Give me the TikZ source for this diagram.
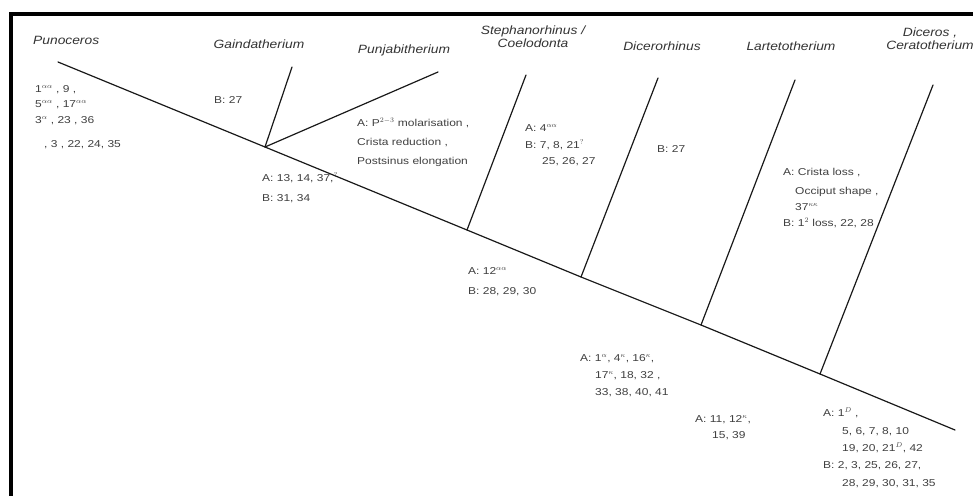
\documentclass[tikz,border=0pt]{standalone}
\usepackage{fontspec}
\setmainfont{Liberation Sans}[FakeStretch=1.15]
\newfontfamily\datafont{Liberation Sans}[FakeStretch=1.2]
\begin{document}
\begin{tikzpicture}[x=1pt,y=-1pt,
  taxon/.style={font=\fontsize{12}{13}\selectfont\itshape, text=black!80, inner sep=0pt, align=center},
  data/.style={font=\datafont\fontsize{10}{10}\selectfont, text=black!75, inner sep=0pt, anchor=base west},
  branch/.style={line width=1.2pt, draw=black!90, line cap=round},
  frameline/.style={line width=4pt, line join=miter}]
\useasboundingbox (0,0) rectangle (973,495);
\fill[white] (0,0) rectangle (973,495);
\draw[frameline] (11,500) -- (11,14) -- (980,14);

% main line and junctions
\coordinate (root) at (58,62);
\coordinate (tipend) at (955,430);
\coordinate (j1) at (265,147);
\coordinate (j2) at (467,230);
\coordinate (j3) at (581,277);
\coordinate (j4) at (701,325);
\coordinate (j5) at (820,374);
\coordinate (tG) at (292,67);
\coordinate (tP) at (438,72);
\coordinate (tS) at (526,75);
\coordinate (tD) at (658,78);
\coordinate (tL) at (795,80);
\coordinate (tC) at (933,85);

\draw[branch] (root) -- (j1) -- (j2) -- (j3) -- (j4) -- (j5) -- (tipend);
\draw[branch] (j1) -- (tG);
\draw[branch] (j1) -- (tP);
\draw[branch] (j2) -- (tS);
\draw[branch] (j3) -- (tD);
\draw[branch] (j4) -- (tL);
\draw[branch] (j5) -- (tC);

% taxon labels
\node[taxon, anchor=west] (nPun) at (33,40) {Punoceros};
\node[taxon] (nGai) at (259,44) {Gaindatherium};
\node[taxon] (nPja) at (404,50) {Punjabitherium};
\node[taxon] (nSte) at (533,37) {Stephanorhinus /\\Coelodonta};
\node[taxon] (nDic) at (662,46) {Dicerorhinus};
\node[taxon] (nLar) at (791,46) {Lartetotherium};
\node[taxon] (nCer) at (930,39) {Diceros ,\\Ceratotherium};

% character lists
\node[data] (l1) at (35,92) {1$^{\alpha\alpha}$ , 9 ,};
\node[data] (l2) at (35,107) {5$^{\alpha\alpha}$ , 17$^{\alpha\alpha}$};
\node[data] (l3) at (35,123) {3$^{\alpha}$ , 23 , 36};
\node[data] (l4) at (44,147) {, 3 , 22, 24, 35};

\node[data] (g1) at (214,103) {B: 27};

\node[data] (p1) at (357,126) {A: P$^{2-3}$ molarisation ,};
\node[data] (p2) at (357,145) {Crista reduction ,};
\node[data] (p3) at (357,164) {Postsinus elongation};

\node[data] (n1a) at (262,181) {A: 13, 14, 37,$^{?}$};
\node[data] (n1b) at (262,201) {B: 31, 34};

\node[data] (s1) at (525,131) {A: 4$^{\alpha\alpha}$};
\node[data] (s2) at (525,148) {B: 7, 8, 21$^{?}$};
\node[data] (s3) at (542,164) {25, 26, 27};

\node[data] (n2a) at (468,274) {A: 12$^{\alpha\alpha}$};
\node[data] (n2b) at (468,294) {B: 28, 29, 30};

\node[data] (d1) at (657,152) {B: 27};

\node[data] (r1) at (783,175) {A: Crista loss ,};
\node[data] (r2) at (795,194) {Occiput shape ,};
\node[data] (r3) at (795,210) {37$^{\kappa\kappa}$};
\node[data] (r4) at (783,226) {B: 1$^{2}$ loss, 22, 28};

\node[data] (n3a) at (580,361) {A: 1$^{\alpha}$, 4$^{\kappa}$, 16$^{\kappa}$,};
\node[data] (n3b) at (595,378) {17$^{\kappa}$, 18, 32 ,};
\node[data] (n3c) at (595,395) {33, 38, 40, 41};

\node[data] (n4a) at (695,422) {A: 11, 12$^{\kappa}$,};
\node[data] (n4b) at (712,438) {15, 39};

\node[data] (n5a) at (823,416) {A: 1$^{D}$ ,};
\node[data] (n5b) at (842,434) {5, 6, 7, 8, 10};
\node[data] (n5c) at (842,451) {19, 20, 21$^{D}$, 42};
\node[data] (n5d) at (823,468) {B: 2, 3, 25, 26, 27,};
\node[data] (n5e) at (842,486) {28, 29, 30, 31, 35};
\end{tikzpicture}
\end{document}
